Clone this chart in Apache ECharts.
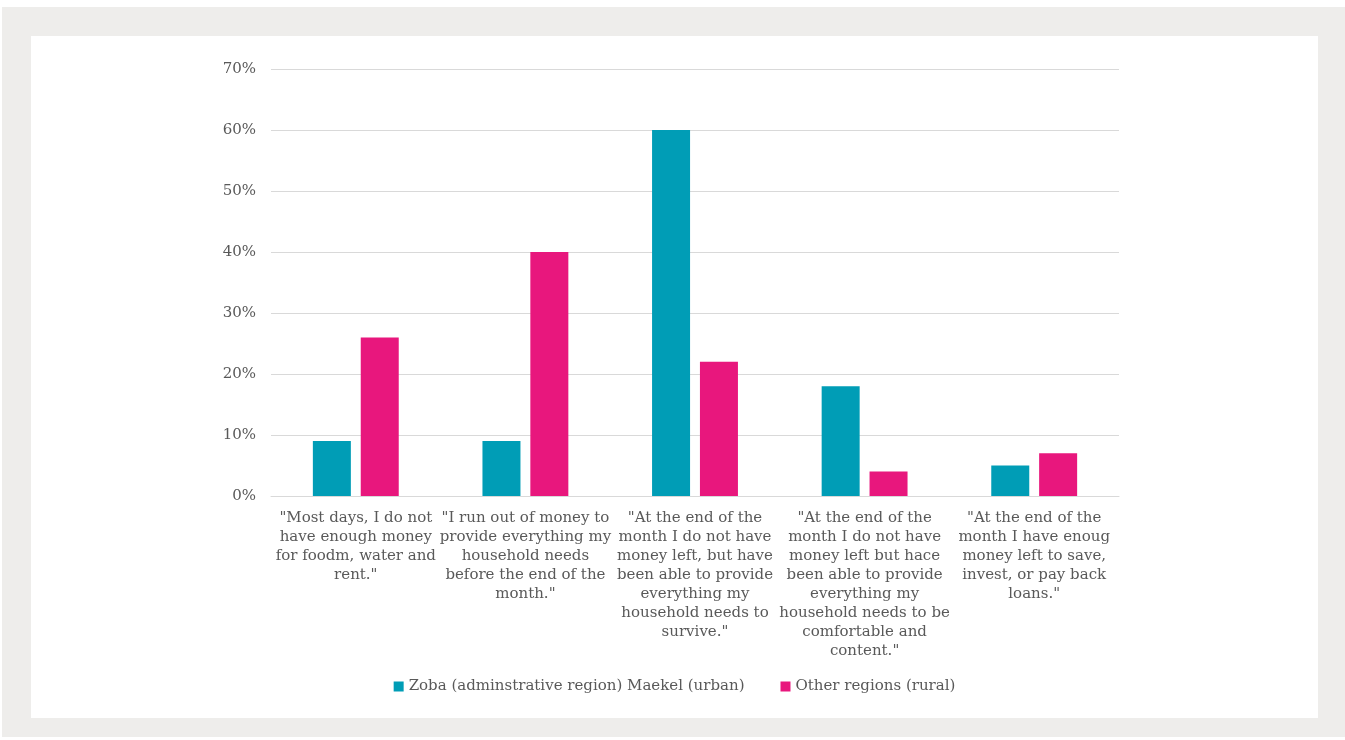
<!DOCTYPE html>
<html>
<head>
<meta charset="utf-8">
<script src="https://cdn.jsdelivr.net/npm/echarts@6/dist/echarts.min.js"></script>
<style>
  html, body { margin: 0; padding: 0; background: #ffffff; }
  #frame { position: absolute; left: 2px; top: 7px; width: 1343px; height: 730px; background: #eeedeb; }
  #chart { position: absolute; left: 31px; top: 36px; width: 1287px; height: 682px; background: #ffffff; }
</style>
</head>
<body>
<div id="frame"></div>
<div id="chart"></div>
<script>
const categories = [
  '"Most days, I do not\nhave enough money\nfor foodm, water and\nrent."',
  '"I run out of money to\nprovide everything my\nhousehold needs\nbefore the end of the\nmonth."',
  '"At the end of the\nmonth I do not have\nmoney left, but have\nbeen able to provide\neverything my\nhousehold needs to\nsurvive."',
  '"At the end of the\nmonth I do not have\nmoney left but hace\nbeen able to provide\neverything my\nhousehold needs to be\ncomfortable and\ncontent."',
  '"At the end of the\nmonth I have enoug\nmoney left to save,\ninvest, or pay back\nloans."'
];
const seriesNames = ['Zoba (adminstrative region) Maekel (urban)', 'Other regions (rural)'];
const urbanValues = [9, 9, 60, 18, 5];
const ruralValues = [26, 40, 22, 4, 7];

const textColor = '#595959';
const fontFamily = '"DejaVu Serif", "Liberation Serif", serif';

const chart = echarts.init(document.getElementById('chart'));
chart.setOption({
  animation: false,
  textStyle: { fontFamily: fontFamily, color: textColor },
  legend: {
    top: 638,
    left: 'center',
    itemWidth: 10,
    itemHeight: 10,
    itemGap: 36,
    icon: 'rect',
    textStyle: { fontFamily: fontFamily, fontSize: 15, color: textColor },
    data: seriesNames
  },
  grid: { left: 240, right: 199, top: 33, bottom: 222 },
  xAxis: {
    type: 'category',
    data: categories,
    axisLine: { lineStyle: { color: '#d9d9d9', width: 1 } },
    axisTick: { show: false },
    axisLabel: {
      interval: 0,
      fontFamily: fontFamily,
      fontSize: 15,
      lineHeight: 19,
      color: textColor,
      margin: 13,
      align: 'center'
    }
  },
  yAxis: {
    type: 'value',
    min: 0,
    max: 70,
    interval: 10,
    axisLine: { show: false },
    axisTick: { show: false },
    splitLine: { lineStyle: { color: '#d9d9d9', width: 1 } },
    axisLabel: {
      formatter: '{value}%',
      fontFamily: fontFamily,
      fontSize: 15,
      color: textColor,
      margin: 15
    }
  },
  series: [
    {
      name: seriesNames[0],
      type: 'bar',
      data: urbanValues,
      barWidth: 38,
      barGap: '26%',
      itemStyle: { color: '#009db6' }
    },
    {
      name: seriesNames[1],
      type: 'bar',
      data: ruralValues,
      barWidth: 38,
      itemStyle: { color: '#e8177d' }
    }
  ]
});
</script>
</body>
</html>
